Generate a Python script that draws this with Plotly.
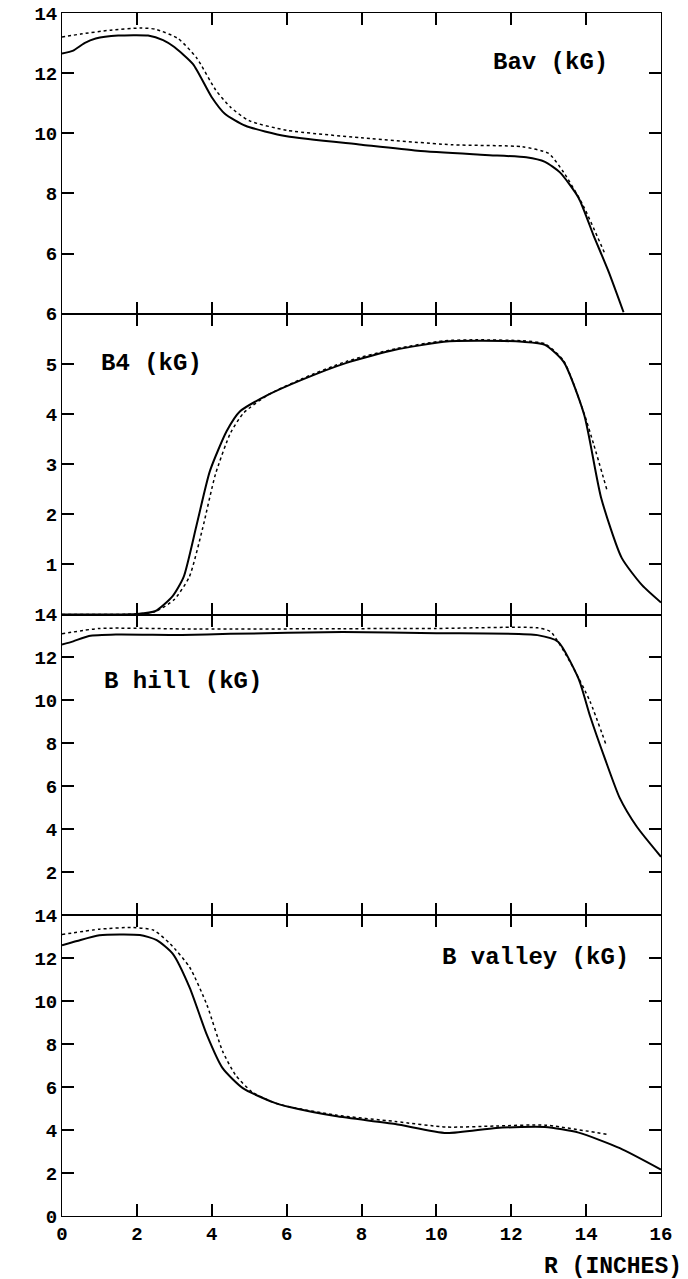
import plotly.graph_objects as go
from plotly.subplots import make_subplots

# ---- Panel 1: Bav (kG)
bav_solid_r = [0, 0.3, 0.6, 0.9, 1.5, 2.3, 2.7, 3.0, 3.5, 4.0, 4.35, 4.9, 6.0, 8.0, 9.5, 11.3, 12.4, 12.9, 13.3, 13.8, 14.2, 14.6, 15.0]
bav_solid_v = [12.65, 12.75, 13.0, 13.15, 13.25, 13.25, 13.1, 12.87, 12.3, 11.2, 10.65, 10.25, 9.9, 9.62, 9.42, 9.28, 9.2, 9.05, 8.7, 7.85, 6.6, 5.4, 4.05]
bav_dot_r = [0, 0.5, 1.3, 2.1, 2.5, 3.1, 3.6, 4.1, 4.5, 5.0, 6.0, 8.0, 10.4, 12.3, 13.0, 13.4, 13.9, 14.5]
bav_dot_v = [13.2, 13.3, 13.43, 13.5, 13.46, 13.15, 12.5, 11.45, 10.87, 10.42, 10.1, 9.85, 9.62, 9.55, 9.33, 8.7, 7.65, 6.0]

# ---- Panel 2: B4 (kG)
b4_solid_r = [0, 1.0, 2.0, 2.5, 2.95, 3.25, 3.6, 3.95, 4.4, 4.75, 5.5, 6.4, 7.6, 8.9, 10.2, 11.1, 12.3, 12.9, 13.4, 13.95, 14.4, 14.95, 15.5, 16.0]
b4_solid_v = [0, 0, 0.01, 0.07, 0.36, 0.75, 1.8, 2.86, 3.66, 4.05, 4.38, 4.68, 5.02, 5.28, 5.44, 5.46, 5.44, 5.38, 5.04, 3.98, 2.33, 1.13, 0.58, 0.24]
b4_dot_r = [0, 2.0, 2.5, 3.0, 3.4, 3.75, 4.1, 4.5, 4.85, 5.5, 6.4, 7.6, 8.9, 10.2, 11.1, 12.3, 12.9, 13.4, 13.95, 14.2, 14.55]
b4_dot_v = [0, 0.01, 0.06, 0.3, 0.75, 1.7, 2.8, 3.62, 4.02, 4.38, 4.7, 5.05, 5.3, 5.46, 5.48, 5.46, 5.4, 5.06, 4.0, 3.4, 2.5]

# ---- Panel 3: B hill (kG)
bhill_solid_r = [0, 0.3, 0.72, 1.44, 3.2, 4.5, 7.5, 10.0, 12.7, 13.25, 13.8, 14.1, 14.5, 14.9, 15.35, 16.0]
bhill_solid_v = [12.6, 12.75, 13.0, 13.07, 13.05, 13.1, 13.18, 13.13, 13.04, 12.73, 11.0, 9.3, 7.3, 5.45, 4.13, 2.72]
bhill_dot_r = [0, 1.0, 3.65, 7.5, 10.0, 12.7, 13.05, 13.6, 14.1, 14.55]
bhill_dot_v = [13.1, 13.35, 13.32, 13.34, 13.35, 13.38, 13.2, 11.7, 9.97, 7.85]

# ---- Panel 4: B valley (kG)
bval_solid_r = [0, 0.4, 1.0, 2.08, 2.53, 2.96, 3.41, 3.87, 4.29, 4.83, 5.63, 6.08, 7.3, 8.9, 10.27, 11.6, 12.9, 13.8, 14.9, 16.0]
bval_solid_v = [12.6, 12.8, 13.07, 13.08, 12.84, 12.2, 10.63, 8.43, 6.88, 5.95, 5.3, 5.07, 4.65, 4.28, 3.86, 4.1, 4.14, 3.88, 3.16, 2.16]
bval_dot_r = [0, 1.0, 1.9, 2.45, 2.9, 3.41, 3.87, 4.29, 4.64, 5.08, 5.63, 6.08, 7.3, 8.9, 10.27, 11.6, 12.9, 14.55]
bval_dot_v = [13.1, 13.35, 13.43, 13.3, 12.65, 11.58, 9.83, 7.67, 6.55, 5.77, 5.3, 5.08, 4.7, 4.4, 4.14, 4.19, 4.23, 3.8]

x_ticks = [0, 2, 4, 6, 8, 10, 12, 14, 16]
panel_labels = ["Bav (kG)", "B4 (kG)", "B hill (kG)", "B valley (kG)"]
x_title = "R (INCHES)"

panels = [
    (bav_solid_r, bav_solid_v, bav_dot_r, bav_dot_v, [4, 14], [6, 8, 10, 12, 14]),
    (b4_solid_r, b4_solid_v, b4_dot_r, b4_dot_v, [0, 6], [1, 2, 3, 4, 5, 6]),
    (bhill_solid_r, bhill_solid_v, bhill_dot_r, bhill_dot_v, [0, 14], [2, 4, 6, 8, 10, 12, 14]),
    (bval_solid_r, bval_solid_v, bval_dot_r, bval_dot_v, [0, 14], [0, 2, 4, 6, 8, 10, 12, 14]),
]

fig = make_subplots(rows=4, cols=1, shared_xaxes=True, vertical_spacing=0)

INK = "black"
FONT = "Liberation Mono"

for i, (sr, sv, dr, dv, yr, yt) in enumerate(panels, start=1):
    fig.add_trace(go.Scatter(x=sr, y=sv, mode="lines",
                             line=dict(color=INK, width=2, shape="spline", smoothing=0.6),
                             showlegend=False, hoverinfo="skip"), row=i, col=1)
    fig.add_trace(go.Scatter(x=dr, y=dv, mode="lines",
                             line=dict(color=INK, width=1.5, dash="dot", shape="spline", smoothing=0.6),
                             showlegend=False, hoverinfo="skip"), row=i, col=1)
    fig.update_yaxes(range=yr, tickvals=yt, ticktext=["<b>%d</b>" % v for v in yt], row=i, col=1)

fig.update_xaxes(range=[0, 16], tickvals=x_ticks, ticktext=["<b>%d</b>" % v for v in x_ticks],
                 ticks="inside", ticklen=12, tickwidth=2,
                 tickcolor=INK, showline=True, linewidth=1, linecolor=INK, mirror="ticks",
                 showgrid=False, zeroline=False,
                 tickfont=dict(family=FONT, size=19, color=INK))
fig.update_yaxes(ticks="inside", ticklen=12, tickwidth=2, tickcolor=INK, showline=True,
                 linewidth=1, linecolor=INK, mirror="ticks", showgrid=False, zeroline=False,
                 tickfont=dict(family=FONT, size=19, color=INK))

ann_pos = [(0.815, 0.959), (0.149, 0.709), (0.202, 0.444), (0.791, 0.215)]
for txt, (ax, ay) in zip(panel_labels, ann_pos):
    fig.add_annotation(text="<b>%s</b>" % txt, x=ax, y=ay, xref="paper", yref="paper",
                       showarrow=False, xanchor="center", yanchor="middle",
                       font=dict(family=FONT, size=24, color=INK))
fig.add_annotation(text="<b>%s</b>" % x_title, x=0.92, y=-0.042, xref="paper", yref="paper",
                   showarrow=False, xanchor="center", yanchor="middle",
                   font=dict(family=FONT, size=23, color=INK))

fig.update_layout(template="none", width=688, height=1279, margin=dict(l=62, r=27, t=13, b=63),
                  plot_bgcolor="white", paper_bgcolor="white", showlegend=False)

fig.write_html("out.html")
